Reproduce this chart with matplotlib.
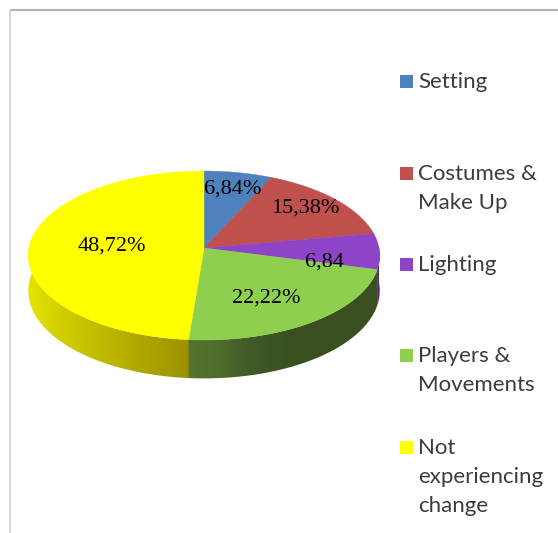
import numpy as np
import matplotlib
matplotlib.use("Agg")
import matplotlib.pyplot as plt
from matplotlib.patches import Polygon, Rectangle

categories = ["Setting", "Costumes &\nMake Up", "Lighting", "Players &\nMovements", "Not\nexperiencing\nchange"]
values = [6.84, 15.38, 6.84, 22.22, 48.72]
value_labels = ["6,84%", "15,38%", "6,84", "22,22%", "48,72%"]
top_colors = ["#4f81bd", "#c0504d", "#8e44c6", "#8fcf4f", "#ffff00"]

# shading along the rim, left to right in pixels
rim_stops = {
    3: ([372, 381], ["#5a2a80", "#452062"]),
    4: ([185, 215, 250, 290, 381], ["#55752f", "#4f6e2d", "#405a26", "#3a5020", "#3a4f20"]),
    5: ([28, 60, 110, 150, 190], ["#e6e400", "#d2ce00", "#bcb600", "#aba300", "#9c9200"]),
}

WIDTH, HEIGHT = 558, 533
CX, RX = 204, 175
APEX_Y, TILT_A, TILT_C = 248, -61.8, 0.0888
DEPTH = 35


def project(angle):
    # angle in radians, clockwise from 12 o'clock, on the unit disc
    u, v = np.sin(angle), np.cos(angle)
    den = 1 + TILT_C * v
    return CX + RX * u / den, (TILT_A * v + APEX_Y) / den, DEPTH / den


def draw_rim(ax, start, stop, stops):
    # front wall of the disc: a horizontal gradient clipped to the wall outline
    a = np.linspace(start, stop, 200)
    x, y, d = project(a)
    outline = list(zip(x, y)) + list(zip(x[::-1], (y + d)[::-1]))
    clip = Polygon(outline, closed=True, facecolor="none", edgecolor="none", transform=ax.transData)
    ax.add_patch(clip)

    xs, cols = stops
    rgb = np.array([matplotlib.colors.to_rgb(c) for c in cols])
    grid = np.linspace(xs[0], xs[-1], 256)
    row = np.stack([np.interp(grid, xs, rgb[:, i]) for i in range(3)], axis=1)[None, :, :]
    im = ax.imshow(row, extent=[xs[0], xs[-1], 400, 200], aspect="auto", interpolation="bilinear", zorder=1)
    im.set_clip_path(clip)


def main():
    plt.rcParams["font.family"] = ["Lato", "DejaVu Sans"]
    fig = plt.figure(figsize=(WIDTH / 100, HEIGHT / 100), dpi=100)
    ax = fig.add_axes([0, 0, 1, 1])
    ax.axis("off")

    # frame lines at the top and left of the chart area
    ax.plot([9.5, WIDTH], [9.5, 9.5], color="#b4b4b4", lw=1.5, solid_capstyle="butt")
    ax.plot([9.5, 9.5], [9.5, HEIGHT], color="#d2d2d2", lw=1.2, solid_capstyle="butt")

    edges = np.radians(np.cumsum([0] + values) * 3.6)

    # rim first so the top face covers its upper edge
    for i, stops in rim_stops.items():
        start, stop = edges[i - 1], edges[i]
        if i == 3:
            start = np.radians(90)
        if i == 4:
            # runs slightly under the next section so no gap shows at the join
            stop = stop + np.radians(1)
        if i == 5:
            stop = np.radians(284)
        draw_rim(ax, start, stop, stops)

    for i, color in enumerate(top_colors):
        a = np.linspace(edges[i], edges[i + 1], 120)
        x, y, _ = project(a)
        pts = [(CX, APEX_Y)] + list(zip(x, y))
        ax.add_patch(Polygon(pts, closed=True, facecolor=color, edgecolor=color, lw=0.3, zorder=2))

    label_xy = [(232.3, 189), (305.5, 207.7), (324.5, 262), (266.7, 297.7), (112, 246)]
    for text, (x, y) in zip(value_labels, label_xy):
        ax.text(x, y, text, family="Liberation Serif", fontsize=16, color="black", ha="center", va="center", zorder=3)

    key_y = [81.5, 173, 264, 355, 447]
    for name, color, y in zip(categories, top_colors, key_y):
        ax.add_patch(Rectangle((399.5, y - 6.5), 13, 13, facecolor=color, edgecolor="none"))
        for k, line in enumerate(name.split("\n")):
            ax.text(418, y + 1 + 29 * k, line, fontsize=16, color="#3c3c3c", ha="left", va="center")

    ax.set_xlim(0, WIDTH)
    ax.set_ylim(HEIGHT, 0)
    fig.savefig("out.png", dpi=100, facecolor="white")


if __name__ == "__main__":
    main()
